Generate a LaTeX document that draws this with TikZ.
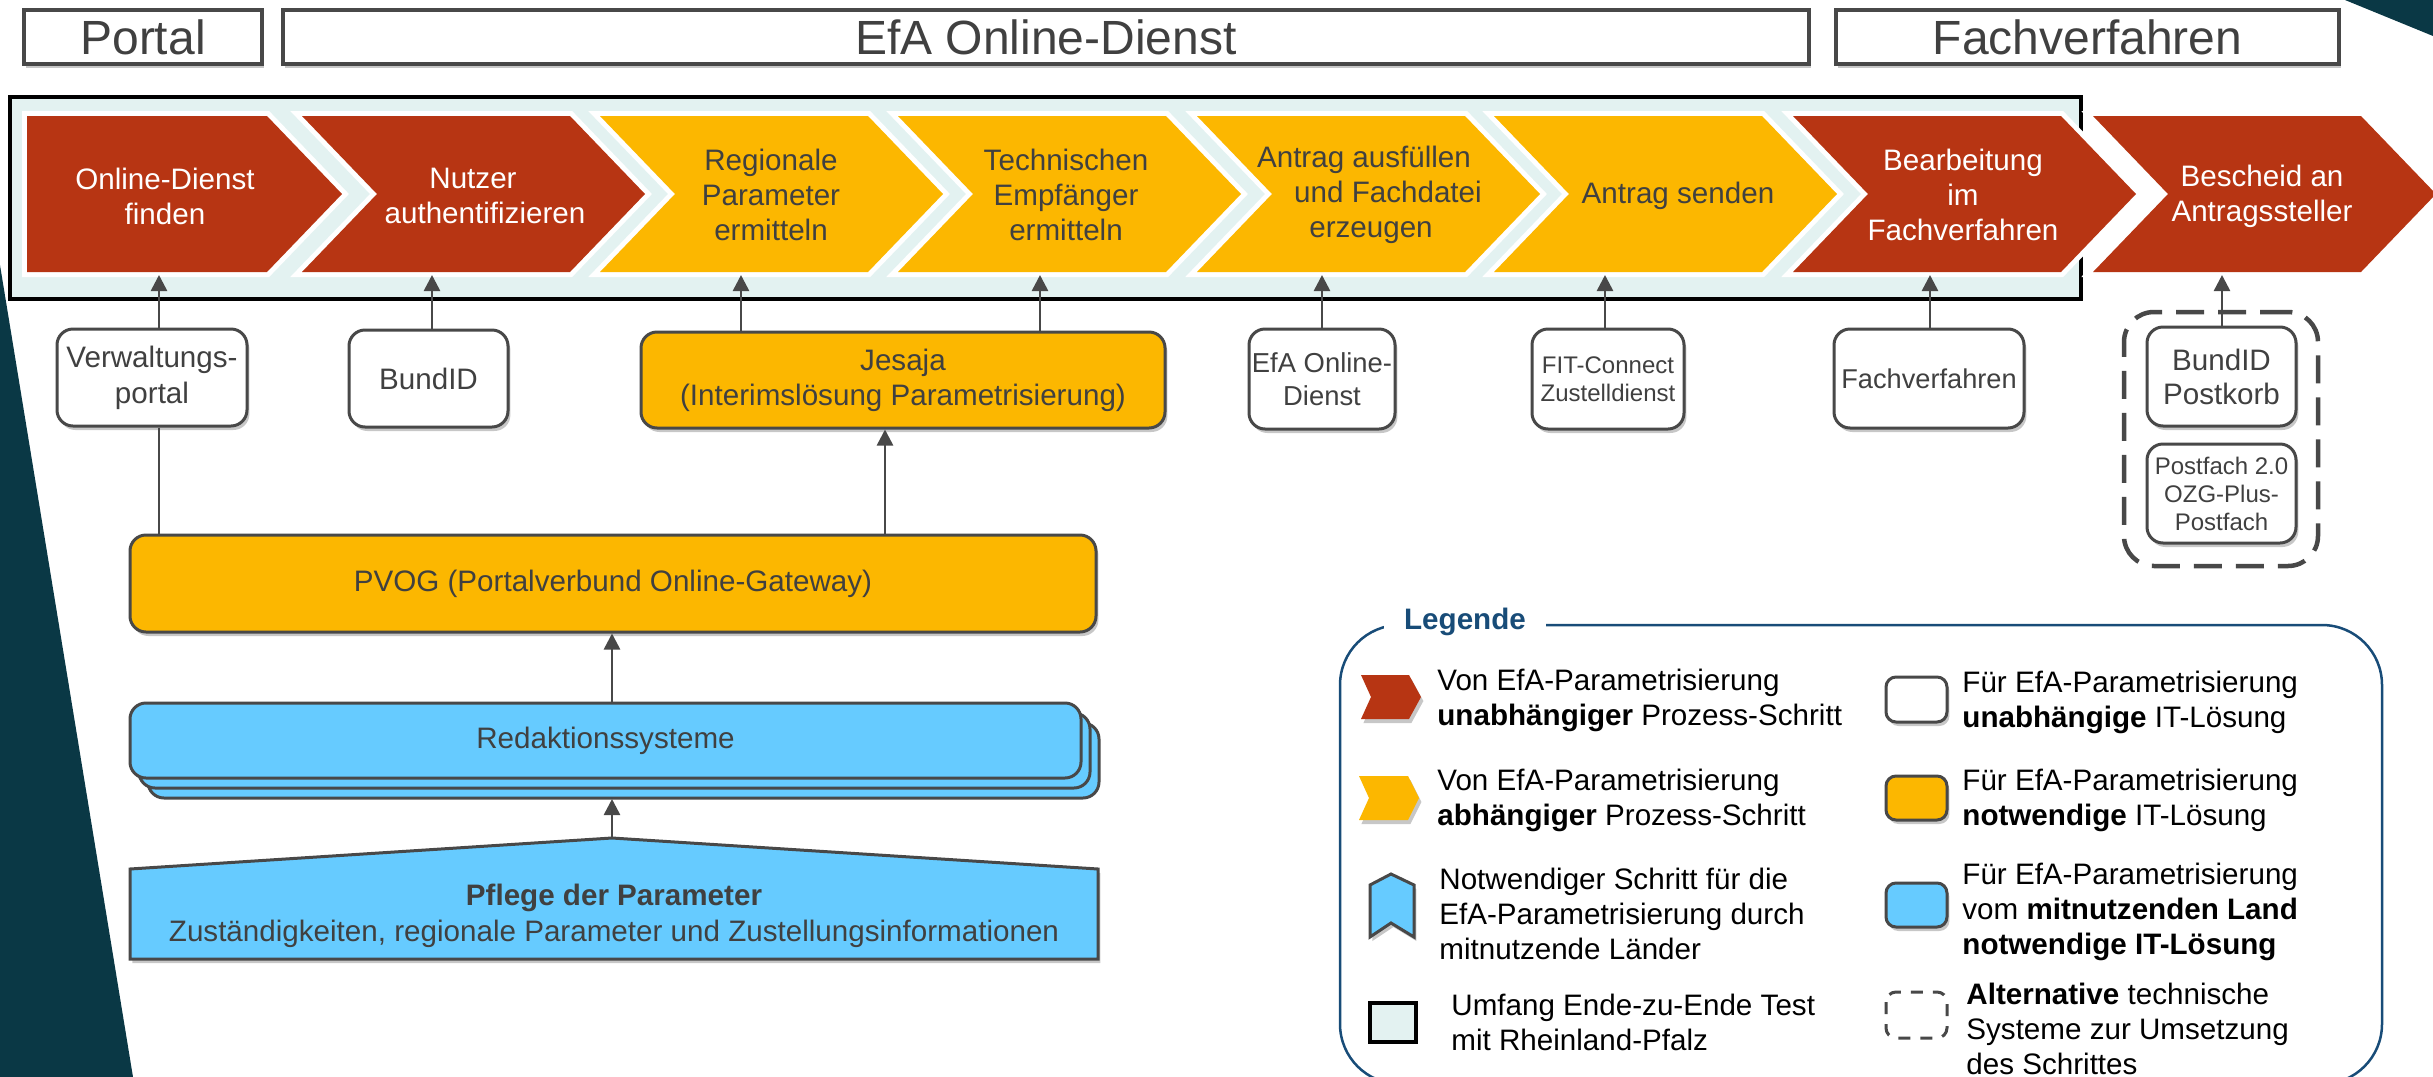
\documentclass[tikz,border=0pt]{standalone}
\usepackage{fontspec}
\setmainfont{Liberation Sans}
\usetikzlibrary{arrows.meta,shadows}
\definecolor{cred}{RGB}{183,53,19}
\definecolor{cyel}{RGB}{252,183,0}
\definecolor{cblue}{RGB}{102,203,255}
\definecolor{ctest}{RGB}{227,242,241}
\definecolor{cteal}{RGB}{10,56,69}
\definecolor{cline}{RGB}{72,72,72}
\definecolor{ctext}{RGB}{64,64,64}
\definecolor{cleg}{RGB}{24,76,120}
\newcommand\fsz[2]{\fontsize{#1}{#2}\selectfont}
\newcommand\mychev[2]{%
  \filldraw[white,line width=5pt,line join=miter] (#1,116) -- ++(268,0) -- ++(75,78) -- ++(-75,78) -- ++(-268,0) -- ++(75,-78) -- cycle;
  \fill[#2] (#1,116) -- ++(268,0) -- ++(75,78) -- ++(-75,78) -- ++(-268,0) -- ++(75,-78) -- cycle;}
\begin{document}
\begin{tikzpicture}[x=0.5pt,y=-0.5pt,
  arr/.style={draw=cline, line width=1.3pt, -{Triangle[length=8pt,width=8pt]}},
  ln/.style={draw=cline, line width=1.3pt},
  shd/.style={drop shadow={shadow xshift=1.2pt,shadow yshift=-2pt,opacity=0.22,fill=black}},
  hdr/.style={draw=cline, line width=2.25pt, fill=white, text=ctext, font=\fsz{24}{28}, inner sep=0pt, shd},
  chevtxt/.style={align=center, font=\fsz{14.8}{17.5}, inner sep=0pt},
  itbox/.style={draw=cline, line width=1.5pt, rounded corners=8pt, fill=white, text=ctext, align=center, inner sep=0pt, shd},
  legtxt/.style={anchor=west, align=left, font=\fsz{14.8}{17.5}, inner sep=0pt, text=black},
  icon/.style={draw=cline, line width=1.5pt, rounded corners=5pt, shd}
]
\useasboundingbox (0,0) rectangle (2433,1077);
% background teal shapes
\fill[cteal] (0,265) -- (133,1077) -- (0,1077) -- cycle;
\fill[cteal] (2345,0) -- (2433,0) -- (2433,36) -- cycle;
% headers
\node[hdr, minimum width=119pt, minimum height=27pt] (hportal) at (143,37) {Portal};
\node[hdr, minimum width=763pt, minimum height=27pt] (hefa) at (1046,37) {EfA Online-Dienst};
\node[hdr, minimum width=251.5pt, minimum height=27pt] (hfach) at (2087.5,37) {Fachverfahren};
% test scope
\draw[line width=1.75pt, fill=ctest] (10,97) rectangle (2081,299);
% chevrons
\filldraw[white,line width=5pt,line join=miter] (27,116) -- (267,116) -- (342,194) -- (267,272) -- (27,272) -- cycle;
\fill[cred] (27,116) -- (267,116) -- (342,194) -- (267,272) -- (27,272) -- cycle;
\mychev{302}{cred}
\mychev{600}{cyel}
\mychev{898}{cyel}
\mychev{1197}{cyel}
\mychev{1494}{cyel}
\mychev{1793}{cred}
\mychev{2093}{cred}
\node[chevtxt, text=white] (c1) at (165,196) {Online-Dienst\\finden};
\node[chevtxt, text=white] (c2) at (485,196) {Nutzer\hspace*{12pt}\\authentifizieren};
\node[chevtxt, text=ctext] (c3) at (771,195) {Regionale\\Parameter\\ermitteln};
\node[chevtxt, text=ctext] (c4) at (1066,195) {Technischen\\Empfänger\\ermitteln};
\node[chevtxt, text=ctext] (c5) at (1364,195) {Antrag ausfüllen\\\hspace*{24pt}und Fachdatei\\\hspace*{7pt}erzeugen};
\node[chevtxt, text=ctext] (c6) at (1678,196) {Antrag senden};
\node[chevtxt, text=white] (c7) at (1963,195) {Bearbeitung\\im\\Fachverfahren};
\node[chevtxt, text=white] (c8) at (2262,196) {Bescheid an\\Antragssteller};
% arrow targets
\coordinate (t1) at (159,275);
\coordinate (t2) at (432,275);
\coordinate (t3) at (741,275);
\coordinate (t4) at (1040,275);
\coordinate (t5) at (1322,275);
\coordinate (t6) at (1605,275);
\coordinate (t7) at (1930,275);
\coordinate (t8) at (2222,275);
% IT boxes
\node[itbox, minimum width=95pt, minimum height=48.5pt, font=\fsz{14.8}{18}] (vp) at (152,377.5) {Verwaltungs-\\portal};
\node[itbox, minimum width=79.5pt, minimum height=48.5pt, font=\fsz{14.8}{18}] (bund) at (428.5,378.5) {BundID};
\node[itbox, fill=cyel, minimum width=262pt, minimum height=48pt, font=\fsz{14.8}{17.5}] (jes) at (903,380) {Jesaja\\(Interimslösung Parametrisierung)};
\node[itbox, minimum width=73pt, minimum height=50pt, font=\fsz{13.7}{16.5}] (efa) at (1322,379) {EfA Online-\\Dienst};
\node[itbox, minimum width=76pt, minimum height=50pt, font=\fsz{12}{14}] (fit) at (1608,379) {FIT-Connect\\Zustelldienst};
\node[itbox, minimum width=95pt, minimum height=49.5pt, font=\fsz{13.6}{16}] (fach) at (1929,378.5) {Fachverfahren};
\node[draw=cline, line width=2.25pt, dash pattern=on 14pt off 7pt, rounded corners=15pt, minimum width=97pt, minimum height=127pt, inner sep=0pt] (alt) at (2221,439) {};
\node[itbox, minimum width=74.5pt, minimum height=49.5pt, font=\fsz{14.8}{17}] (bpk) at (2221.5,376.5) {BundID\\Postkorb};
\node[itbox, minimum width=74.5pt, minimum height=49.5pt, font=\fsz{12}{14}] (pf) at (2221.5,493.5) {Postfach 2.0\\OZG-Plus-\\Postfach};
\node[itbox, fill=cyel, minimum width=483pt, minimum height=48.5pt, font=\fsz{14.8}{17.5}] (pvog) at (613,583.5) {PVOG (Portalverbund Online-Gateway)};
\node[itbox, fill=cblue, minimum width=475.5pt, minimum height=37.5pt, font=\fsz{14.8}{17.5},
  double copy shadow={shadow xshift=4.5pt, shadow yshift=-5pt, fill=cblue, draw=cline, line width=1.5pt}] (redak) at (605.5,740.5) {Redaktionssysteme};
\filldraw[fill=cblue, draw=cline, line width=1.5pt, shd] (130,959) -- (1098,959) -- (1098,869) -- (612,838) -- (130,869) -- cycle;
\node[align=center, text=ctext, font=\fsz{14.8}{18}, inner sep=0pt] (pflege) at (614,916) {\textbf{Pflege der Parameter}\\Zuständigkeiten, regionale Parameter und Zustellungsinformationen};
\coordinate (pfltop) at (612,838);
\coordinate (redbot) at (612,799);
\coordinate (jx) at (885,0);
% connectors
\draw[arr] (t1 |- vp.north) -- (t1);
\draw[ln] (t1 |- vp.south) -- (t1 |- pvog.north);
\draw[arr] (t2 |- bund.north) -- (t2);
\draw[arr] (t3 |- jes.north) -- (t3);
\draw[arr] (t4 |- jes.north) -- (t4);
\draw[arr] (t5 |- efa.north) -- (t5);
\draw[arr] (t6 |- fit.north) -- (t6);
\draw[arr] (t7 |- fach.north) -- (t7);
\draw[arr] (t8 |- bpk.north) -- (t8);
\draw[arr] (jx |- pvog.north) -- (jx |- jes.south);
\draw[arr] (pfltop |- redak.north) -- (pfltop |- pvog.south);
\draw[arr] (pfltop) -- (redbot);
% legend
\draw[cleg, line width=1.25pt, rounded corners=30pt] (1340,625) rectangle (2382,1084);
\node[fill=white, inner xsep=10pt, inner ysep=3pt, text=cleg, font=\fsz{14.8}{17.5}\bfseries] (leg) at (1465,622) {Legende};
% left icons
\fill[cred, shd] (1361,675) -- (1409,675) -- (1421,697) -- (1409,719) -- (1361,719) -- (1371,697) -- cycle;
\fill[cyel, shd] (1359,776) -- (1408,776) -- (1419,798) -- (1408,820) -- (1359,820) -- (1369,798) -- cycle;
\filldraw[fill=cblue, draw=cline, line width=1.5pt, shd] (1391,874) -- (1414,885) -- (1414,937) -- (1391,923) -- (1370,937) -- (1370,885) -- cycle;
\filldraw[fill=ctest, draw=black, line width=1.75pt] (1370,1003) rectangle (1416,1042);
\node[legtxt] (l1) at (1437,700) {Von EfA-Parametrisierung\\\textbf{unabhängiger} Prozess-Schritt};
\node[legtxt] (l2) at (1437,800) {Von EfA-Parametrisierung\\\textbf{abhängiger} Prozess-Schritt};
\node[legtxt] (l3) at (1439,914) {Notwendiger Schritt für die\\EfA-Parametrisierung durch\\mitnutzende Länder};
\node[legtxt] (l4) at (1451,1022) {Umfang Ende-zu-Ende Test\\mit Rheinland-Pfalz};
% right icons
\filldraw[icon, fill=white] (1886,677) rectangle (1947,722);
\filldraw[icon, fill=cyel] (1886,776) rectangle (1947,820);
\filldraw[icon, fill=cblue] (1886,883) rectangle (1947,927);
\draw[draw=cline, line width=1.5pt, rounded corners=5pt, dash pattern=on 6pt off 5pt] (1886,992) rectangle (1947,1038);
\node[legtxt] (r1) at (1962,702) {Für EfA-Parametrisierung\\\textbf{unabhängige} IT-Lösung};
\node[legtxt] (r2) at (1962,800) {Für EfA-Parametrisierung\\\textbf{notwendige} IT-Lösung};
\node[legtxt] (r3) at (1962,912) {Für EfA-Parametrisierung\\vom \textbf{mitnutzenden Land}\\\textbf{notwendige IT-Lösung}};
\node[legtxt] (r4) at (1966,1029) {\textbf{Alternative} technische\\Systeme zur Umsetzung\\des Schrittes};
\end{tikzpicture}
\end{document}
